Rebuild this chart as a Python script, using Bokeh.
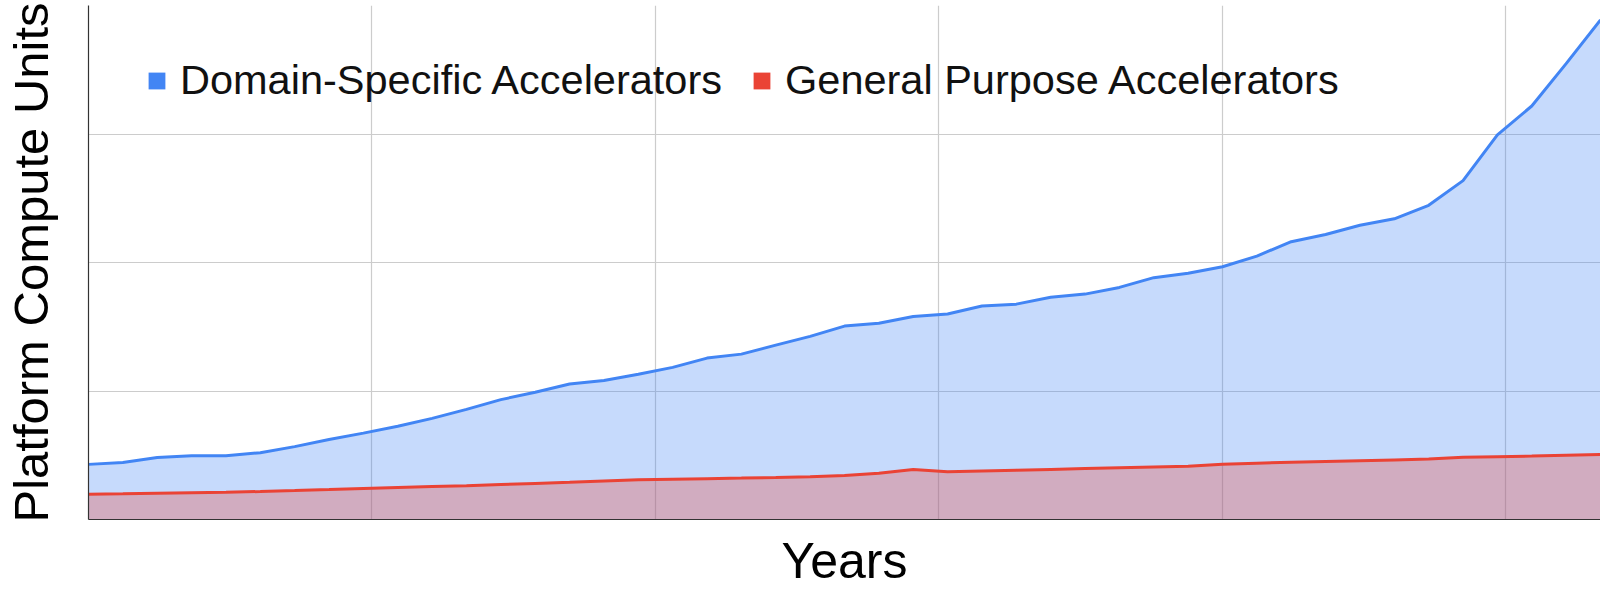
import numpy as np
from bokeh.plotting import figure
from bokeh.models import ColumnDataSource, FixedTicker, Legend, LegendItem, Range1d
from bokeh.embed import file_html
from bokeh.resources import INLINE

# ---------------- data ----------------
periods = list(range(45))
domain_specific = [
    0.429, 0.443, 0.482, 0.496, 0.497, 0.520, 0.567, 0.622, 0.672, 0.726,
    0.787, 0.857, 0.933, 0.990, 1.055, 1.081, 1.130, 1.184, 1.256, 1.287,
    1.357, 1.425, 1.505, 1.527, 1.580, 1.599, 1.662, 1.676, 1.729, 1.754,
    1.806, 1.882, 1.916, 1.967, 2.050, 2.162, 2.218, 2.290, 2.340, 2.445,
    2.637, 2.993, 3.218, 3.548, 3.888,
]
general_purpose = [
    0.197, 0.200, 0.204, 0.208, 0.212, 0.218, 0.225, 0.233, 0.242, 0.249,
    0.256, 0.263, 0.272, 0.281, 0.290, 0.300, 0.310, 0.314, 0.318, 0.322,
    0.327, 0.333, 0.342, 0.360, 0.390, 0.372, 0.378, 0.384, 0.390, 0.396,
    0.402, 0.408, 0.414, 0.430, 0.438, 0.446, 0.452, 0.458, 0.464, 0.470,
    0.484, 0.489, 0.494, 0.500, 0.506,
]
series_names = ["Domain-Specific Accelerators", "General Purpose Accelerators"]
x_title = "Years"
y_title = "Platform Compute Units"

# ---------------- style ----------------
BLUE = "#4285F4"
RED = "#EA4335"
FONT = "Liberation Sans"
GRID = "#cccccc"
AXIS = "#333333"

x_end = periods[-1]
grid_step = x_end / 5.335
grid_x = list(np.arange(grid_step, x_end, grid_step))

src = ColumnDataSource(dict(x=periods, dsa=domain_specific, gpa=general_purpose))

p = figure(width=1600, height=591, output_backend="svg", toolbar_location=None,
           x_range=Range1d(periods[0], x_end), y_range=Range1d(0, 4),
           min_border_left=87, min_border_right=0, min_border_top=5,
           min_border_bottom=70)
p.outline_line_color = None
p.background_fill_color = "white"
p.border_fill_color = "white"

p.varea(x="x", y1=0, y2="dsa", source=src, fill_color=BLUE, fill_alpha=0.3)
p.varea(x="x", y1=0, y2="gpa", source=src, fill_color=RED, fill_alpha=0.3)
p.line("x", "dsa", source=src, line_color=BLUE, line_width=3)
p.line("x", "gpa", source=src, line_color=RED, line_width=3)

# legend swatches (solid squares, renderers themselves hidden)
sw1 = p.varea(x="x", y1=0, y2="dsa", source=src, fill_color=BLUE, fill_alpha=1.0,
              visible=False)
sw2 = p.varea(x="x", y1=0, y2="gpa", source=src, fill_color=RED, fill_alpha=1.0,
              visible=False)
legend = Legend(items=[LegendItem(label=series_names[0], renderers=[sw1]),
                       LegendItem(label=series_names[1], renderers=[sw2])],
                orientation="horizontal", location=(58, 415),
                glyph_width=21, glyph_height=21, label_standoff=13, spacing=29,
                padding=0, margin=0, border_line_color=None,
                background_fill_alpha=0,
                label_text_font=FONT, label_text_font_size="41.5px",
                label_text_color="#111111")
p.add_layout(legend, "center")

# axes and grids
for ax in (p.xaxis[0], p.yaxis[0]):
    ax.ticker = FixedTicker(ticks=[])
    ax.major_tick_line_color = None
    ax.minor_tick_line_color = None
    ax.axis_line_color = AXIS
    ax.axis_line_width = 1.2
    ax.axis_label_text_font = FONT
    ax.axis_label_text_font_style = "normal"
    ax.axis_label_text_color = "#000000"

p.xaxis.axis_label = x_title
p.xaxis.axis_label_text_font_size = "50px"
p.xaxis.axis_label_standoff = 13

p.yaxis.axis_label = y_title
p.yaxis.axis_label_text_font_size = "49px"
p.yaxis.axis_label_standoff = 31

p.xgrid.ticker = FixedTicker(ticks=grid_x)
p.ygrid.ticker = FixedTicker(ticks=[1, 2, 3, 4])
for g in (p.xgrid[0], p.ygrid[0]):
    g.grid_line_color = GRID
    g.grid_line_width = 1.2

open("out.html", "w").write(file_html(p, INLINE))
